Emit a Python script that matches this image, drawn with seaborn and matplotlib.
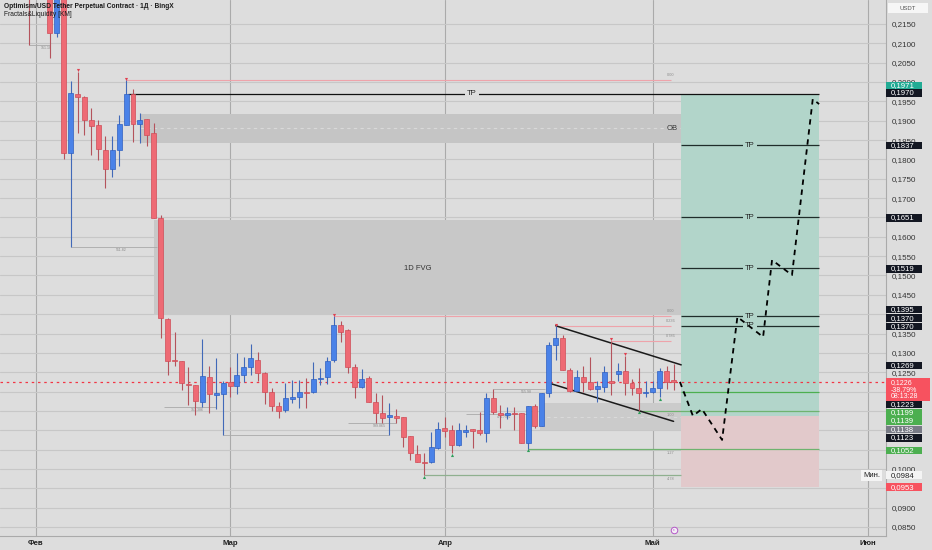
import matplotlib
matplotlib.use("Agg")
import matplotlib.pyplot as plt
import matplotlib.dates as mdates
import matplotlib.transforms as mtransforms
from matplotlib.patches import Rectangle
import seaborn as sns
import pandas as pd
import numpy as np

# ---- data (daily candles, 31 Jan .. 4 May) ----
start_date = "2025-01-31"
opens = [0.2290, 0.2260, 0.2300, 0.2280, 0.2127, 0.2240, 0.1817, 0.1969, 0.1961, 0.1902,
         0.1889, 0.1824, 0.1775, 0.1824, 0.1889, 0.1969, 0.1892, 0.1904, 0.1868, 0.1649,
         0.1388, 0.1281, 0.1279, 0.1220, 0.1217, 0.1173, 0.1238, 0.1192, 0.1194, 0.1225,
         0.1215, 0.1243, 0.1264, 0.1282, 0.1248, 0.1199, 0.1163, 0.1152, 0.1181, 0.1186,
         0.1199, 0.1199, 0.1232, 0.1237, 0.1282, 0.1372, 0.1359, 0.1264, 0.1212, 0.1235,
         0.1173, 0.1144, 0.1134, 0.1137, 0.1134, 0.1085, 0.1039, 0.1018, 0.1018, 0.1054,
         0.1106, 0.1101, 0.1062, 0.1096, 0.1103, 0.1101, 0.1093, 0.1183, 0.1144, 0.1139,
         0.1144, 0.1144, 0.1067, 0.1163, 0.1110, 0.1197, 0.1320, 0.1338, 0.1256, 0.1201,
         0.1237, 0.1225, 0.1206, 0.1212, 0.1227, 0.1245, 0.1253, 0.1222, 0.1209, 0.1197,
         0.1199, 0.1209, 0.1253, 0.1227]
highs = [0.2330, 0.2340, 0.2350, 0.2290, 0.2300, 0.2250, 0.2003, 0.2026, 0.1965, 0.1933,
         0.1902, 0.1861, 0.1861, 0.1915, 0.2005, 0.1982, 0.1920, 0.1904, 0.1894, 0.1656,
         0.1390, 0.1354, 0.1279, 0.1263, 0.1217, 0.1336, 0.1265, 0.1286, 0.1228, 0.1263,
         0.1299, 0.1289, 0.1324, 0.1302, 0.1250, 0.1209, 0.1173, 0.1222, 0.1230, 0.1230,
         0.1235, 0.1276, 0.1261, 0.1289, 0.1395, 0.1382, 0.1362, 0.1271, 0.1258, 0.1240,
         0.1196, 0.1191, 0.1170, 0.1155, 0.1134, 0.1085, 0.1062, 0.1041, 0.1096, 0.1121,
         0.1134, 0.1114, 0.1119, 0.1114, 0.1103, 0.1147, 0.1196, 0.1206, 0.1165, 0.1160,
         0.1160, 0.1144, 0.1163, 0.1168, 0.1197, 0.1328, 0.1369, 0.1346, 0.1261, 0.1256,
         0.1266, 0.1289, 0.1227, 0.1266, 0.1331, 0.1273, 0.1292, 0.1232, 0.1261, 0.1227,
         0.1227, 0.1261, 0.1266, 0.1271]
lows = [0.2096, 0.2230, 0.2225, 0.2062, 0.2117, 0.1801, 0.1574, 0.1868, 0.1863, 0.1811,
        0.1799, 0.1726, 0.1755, 0.1783, 0.1889, 0.1845, 0.1842, 0.1835, 0.1649, 0.1338,
        0.1243, 0.1267, 0.1204, 0.1164, 0.1139, 0.1160, 0.1145, 0.1155, 0.1088, 0.1186,
        0.1194, 0.1225, 0.1243, 0.1227, 0.1168, 0.1150, 0.1132, 0.1148, 0.1170, 0.1157,
        0.1157, 0.1196, 0.1217, 0.1220, 0.1277, 0.1328, 0.1248, 0.1183, 0.1210, 0.1173,
        0.1119, 0.1119, 0.1088, 0.1119, 0.1057, 0.1023, 0.1018, 0.0984, 0.1015, 0.1052,
        0.1083, 0.1041, 0.1060, 0.1083, 0.1054, 0.1088, 0.1070, 0.1142, 0.1106, 0.1129,
        0.1101, 0.1067, 0.1052, 0.1106, 0.1110, 0.1186, 0.1282, 0.1256, 0.1199, 0.1201,
        0.1199, 0.1204, 0.1173, 0.1199, 0.1191, 0.1227, 0.1191, 0.1191, 0.1150, 0.1186,
        0.1196, 0.1185, 0.1206, 0.1204]
closes = [0.2260, 0.2300, 0.2280, 0.2127, 0.2240, 0.1817, 0.1972, 0.1961, 0.1902, 0.1886,
          0.1827, 0.1775, 0.1824, 0.1892, 0.1969, 0.1892, 0.1902, 0.1863, 0.1649, 0.1390,
          0.1279, 0.1279, 0.1222, 0.1217, 0.1176, 0.1240, 0.1194, 0.1196, 0.1222, 0.1215,
          0.1243, 0.1264, 0.1287, 0.1248, 0.1199, 0.1163, 0.1150, 0.1183, 0.1186, 0.1199,
          0.1196, 0.1232, 0.1235, 0.1279, 0.1372, 0.1354, 0.1264, 0.1212, 0.1232, 0.1173,
          0.1144, 0.1132, 0.1139, 0.1132, 0.1082, 0.1041, 0.1018, 0.1015, 0.1057, 0.1103,
          0.1098, 0.1062, 0.1101, 0.1101, 0.1098, 0.1093, 0.1183, 0.1147, 0.1139, 0.1144,
          0.1142, 0.1067, 0.1163, 0.1110, 0.1197, 0.1320, 0.1338, 0.1256, 0.1201, 0.1237,
          0.1225, 0.1206, 0.1214, 0.1250, 0.1222, 0.1253, 0.1222, 0.1209, 0.1197, 0.1199,
          0.1209, 0.1253, 0.1225, 0.1226]

price_ticks = [0.2150, 0.2100, 0.2050, 0.2000, 0.1950, 0.1900, 0.1850, 0.1800, 0.1750,
               0.1700, 0.1650, 0.1600, 0.1550, 0.1500, 0.1450, 0.1400, 0.1350, 0.1300,
               0.1250, 0.1200, 0.1150, 0.1100, 0.1050, 0.1000, 0.0950, 0.0900, 0.0850]
# tick labels that sit under a price box on the original axis
hidden_ticks = [0.1650, 0.1400, 0.1200, 0.1150, 0.1100, 0.1050, 0.0950]
month_dates = ["2025-02-01", "2025-03-01", "2025-04-01", "2025-05-01", "2025-06-01"]
month_labels = ["Фев", "Мар", "Апр", "Май", "Июн"]

current_price = 0.1226
tp_top = 0.1970
tp_levels = [0.1837, 0.1651, 0.1519, 0.1395, 0.1370]
entry_price = 0.1138
stop_price = 0.0953

ob_zone = (0.1843, 0.1917)
fvg_zone = (0.1398, 0.1643)
low_zone = (0.1100, 0.1170)

path_dates = ["2025-05-04 22:00", "2025-05-06 19:00", "2025-05-08 02:00", "2025-05-11 00:00",
              "2025-05-13 05:00", "2025-05-16 22:00", "2025-05-18 05:00", "2025-05-21 02:00",
              "2025-05-24 02:00", "2025-05-25 00:00"]
path_prices = [0.1225, 0.1137, 0.1155, 0.1075, 0.1393, 0.1341, 0.1540, 0.1501, 0.1956, 0.1943]

axis_labels = ["0,1971", "0,1970", "0,1837", "0,1651", "0,1519", "0,1395", "0,1370", "0,1370",
               "0,1269", "0,1223", "0,1199", "0,1139", "0,1138", "0,1123", "0,1052", "0,0984",
               "0,0953"]

# ---- styling ----
BG = "#dddddd"
sns.set_style("white", {"axes.facecolor": BG, "figure.facecolor": BG})
plt.rcParams["font.family"] = ["Liberation Sans", "DejaVu Sans"]

fig = plt.figure(figsize=(9.32, 5.5), dpi=100)
ax = fig.add_axes([0, 14 / 550, 886 / 932, 536 / 550])
ax.set_facecolor(BG)

dates = pd.date_range(start_date, periods=len(opens), freq="D")
x = mdates.date2num(dates)
o, h, l, c = map(np.array, (opens, highs, lows, closes))
up = c >= o

d_feb = mdates.date2num(pd.Timestamp("2025-02-01"))
def day(n):
    return d_feb + n

ax.set_xlim(day(-5.19), day(122.65))
ax.set_ylim(0.08267, 0.22120)

# grid + axes
ax.set_yticks(price_ticks)
ax.set_yticklabels(["" if p in hidden_ticks else f"{p:.4f}".replace(".", ",") for p in price_ticks])
ax.yaxis.tick_right()
ax.tick_params(axis="y", length=0, pad=4, labelsize=5.8, labelcolor="#333333")
month_x = mdates.date2num(pd.to_datetime(month_dates))
ax.set_xticks(month_x)
ax.set_xticklabels(month_labels, fontweight="bold")
ax.tick_params(axis="x", length=0, pad=3, labelsize=5.6, labelcolor="#222222")
ax.grid(axis="y", color="#c7c7c7", lw=0.8)
ax.grid(axis="x", color="#aaaaaa", lw=0.8)
ax.set_axisbelow(True)
for s in ("left", "top"):
    ax.spines[s].set_visible(False)
ax.spines["bottom"].set_color("#aaaaaa")
ax.spines["right"].set_color("#aaaaaa")

# zones
zone_end = day(93)
ax.add_patch(Rectangle((day(15), ob_zone[0]), zone_end - day(15), ob_zone[1] - ob_zone[0],
                       fc="#c5c5c5", ec="none", zorder=1))
ax.hlines(sum(ob_zone) / 2, day(15), zone_end, colors="#d9d9d9", lw=0.8, linestyles=(0, (3, 3)), zorder=1)
ax.text(day(92.6), sum(ob_zone) / 2, "OB", fontsize=5.5, ha="right", va="center", color="#333333", zorder=2)
ax.add_patch(Rectangle((day(17.1), fvg_zone[0]), zone_end - day(17.1), fvg_zone[1] - fvg_zone[0],
                       fc="#c8c8c8", ec="none", zorder=1))
ax.text(day(55.1), 0.1519, "1D FVG", fontsize=5.5, ha="center", va="center", color="#333333", zorder=2)
ax.add_patch(Rectangle((day(72.7), low_zone[0]), zone_end - day(72.7), low_zone[1] - low_zone[0],
                       fc="#cbcbcb", ec="none", zorder=1))
ax.hlines(sum(low_zone) / 2, day(72.7), zone_end, colors="#dadada", lw=0.8, linestyles=(0, (3, 3)), zorder=1)

# long position box
ax.add_patch(Rectangle((day(93), entry_price), 20, tp_top - entry_price, fc="#b2d5ca", ec="none", zorder=1))
ax.add_patch(Rectangle((day(93), stop_price), 20, entry_price - stop_price, fc="#e2c9cb", ec="none", zorder=1))

# current price line
ax.axhline(current_price, color="#f23645", lw=0.9, ls=(0, (2, 3)), zorder=2)

# fib / liquidity lines
fib_end = day(91.6)
for i in [14, 44, 76, 84]:
    ax.hlines(highs[i], x[i], fib_end, colors="#eea3aa", lw=0.8, zorder=2)
for p, t in [(highs[14], "0.00"), (highs[44], "0.00"), (highs[76], "0.236"), (highs[84], "0.786")]:
    ax.text(fib_end, p + 0.0008, t, fontsize=2.8, color="#8c8c8c", ha="center", va="bottom", zorder=2)
ax.hlines(lows[72], x[72], day(113), colors="#6fb36f", lw=0.9, zorder=2)
ax.hlines(lows[57], x[57], day(93), colors="#8fb08f", lw=0.9, zorder=2)
ax.hlines(lows[88], x[88], day(113), colors="#6fb36f", lw=0.9, zorder=2)
ax.hlines(0.1199, day(93), day(113), colors="#4caf50", lw=0.9, zorder=2)
for p, t in [(lows[72], "1.27"), (lows[57], "4.78"), (lows[88], "1.00")]:
    ax.text(fib_end, p - 0.0006, t, fontsize=2.8, color="#8c8c8c", ha="center", va="top", zorder=2)

liq = [(-1, 2, lows[0], "151.18"), (5, 17.5, lows[6], "511.82"), (18.5, 26, lows[25], "157.386"),
       (27, 51, lows[28], ""), (45, 52, lows[51], "999.865"), (62, 71, 0.1142, "474.79%"),
       (66, 73.5, highs[67], "515.98")]
for a, b, p, t in liq:
    ax.hlines(p, day(a), day(b), colors="#a9a9a9", lw=0.6, zorder=2)
    if t:
        ax.text(day((a + b) / 2 + 1), p - 0.0003, t, fontsize=2.6, color="#8a8a8a", ha="center", va="top", zorder=2)

# channel
ax.plot([day(75), day(93.1)], [0.1370, 0.1269], color="#1a1a1a", lw=1.1, zorder=4)
ax.plot([day(74), day(92)], [0.1222, 0.1123], color="#1a1a1a", lw=1.1, zorder=4)

# TP lines
ax.hlines(tp_top, day(13.3), day(113), colors="#111111", lw=0.9, zorder=4)
ax.text(day(62.9), tp_top, "TP", fontsize=5.5, ha="center", va="center", color="#222222", zorder=5,
        bbox=dict(boxstyle="square,pad=0.3", fc=BG, ec="none"))
ax.hlines(tp_levels, day(93), day(113), colors="#1f2d2a", lw=0.9, zorder=4)
for p in tp_levels:
    ax.text(day(103), p, "TP", fontsize=5.5, ha="center", va="center", color="#222222", zorder=5,
            bbox=dict(boxstyle="square,pad=0.3", fc="#b2d5ca", ec="none"))

# candles
wick_col = np.where(up, "#4169b8", "#b4535c")
body_col = np.where(up, "#4a82e8", "#ee6a74")
edge_col = np.where(up, "#2f5fc0", "#cf4c57")
ax.vlines(x, l, h, colors=wick_col, lw=0.8, zorder=6)
body_h = np.maximum(np.abs(c - o), 0.00028)
ax.bar(x, body_h, bottom=np.minimum(o, c), width=0.72, color=body_col, edgecolor=edge_col, lw=0.5, zorder=7)

# fractal markers
for i in [7, 14, 44, 76, 84, 86]:
    ax.scatter(x[i], highs[i] + 0.0004, marker="v", s=5, color="#e04050", zorder=8, lw=0)
for i in [57, 61, 72, 88, 91]:
    ax.scatter(x[i], lows[i] - 0.0004, marker="^", s=5, color="#2e9e5a", zorder=8, lw=0)

# projected path
path_df = pd.DataFrame({"date": mdates.date2num(pd.to_datetime(path_dates)), "price": path_prices})
sns.lineplot(data=path_df, x="date", y="price", sort=False, color="black", lw=1.3,
             linestyle=(0, (3, 2.6)), ax=ax, zorder=9)
ax.set_xlabel("")
ax.set_ylabel("")

# event marker
ax.scatter(day(92), 0.0843, s=22, marker="o", facecolor="#f4eef6", edgecolor="#b457c8", lw=0.7, zorder=9, clip_on=False)
ax.text(day(92), 0.0843, "ε", fontsize=3, color="#b457c8", ha="center", va="center", zorder=10)

# right axis price labels
trans = mtransforms.blended_transform_factory(fig.transFigure, ax.transData)
label_y = [0.1990, 0.1972, 0.1836, 0.1649, 0.1517, 0.1412, 0.1390, 0.1368, 0.1267, 0.1167,
           0.1145, 0.1124, 0.1102, 0.1080, 0.1048, 0.0984, 0.0953]
label_fc = ["#22ab94", "#131722", "#131722", "#131722", "#131722", "#131722", "#131722", "#131722",
            "#131722", "#131722", "#4caf50", "#4caf50", "#787b86", "#131722", "#4caf50", "#f4f4f4",
            "#f7525f"]
box_h = 0.00195
for t, yy, fc in zip(axis_labels, label_y, label_fc):
    ax.add_patch(Rectangle((886 / 932, yy - box_h / 2), 36 / 932, box_h, transform=trans,
                           fc=fc, ec="none", zorder=20, clip_on=False))
    ax.text(891 / 932, yy, t, transform=trans, fontsize=5.6, va="center", ha="left",
            color="#222222" if fc == "#f4f4f4" else "white", zorder=21, clip_on=False)
# current price box (3 lines)
ax.add_patch(Rectangle((886 / 932, 0.1205 - 0.00297), 44 / 932, 0.00594, transform=trans,
                       fc="#f7525f", ec="none", zorder=20, clip_on=False))
ax.text(891 / 932, 0.1205, "0,1226\n-38,79%\n08:13:28", transform=trans, fontsize=5.0,
        va="center", ha="left", color="white", linespacing=1.0, zorder=21, clip_on=False)
# Min label
ax.text(880 / 932, 0.0984, "Мин.", transform=trans, fontsize=5.6, va="center", ha="right", color="#222222",
        zorder=21, clip_on=False, bbox=dict(boxstyle="square,pad=0.25", fc="#f4f4f4", ec="none"))
# USDT box
fig.patches.append(Rectangle((888 / 932, 1 - 13 / 550), 40 / 932, 10 / 550, transform=fig.transFigure,
                             fc="#f6f6f6", ec="none", zorder=20))
fig.text(908 / 932, 1 - 8 / 550, "USDT", fontsize=4.3, color="#555555", ha="center", va="center", zorder=21)

# title
fig.text(4 / 932, 1 - 7 / 550, "Optimism/USD Tether Perpetual Contract · 1Д · BingX",
         fontsize=4.8, fontweight="bold", color="#1a1a1a", va="center", ha="left")
fig.text(4 / 932, 1 - 15 / 550, "Fractals&Liquidity [KM]", fontsize=4.8, color="#1a1a1a",
         va="center", ha="left")

fig.savefig("out.png", dpi=100, facecolor=BG)
